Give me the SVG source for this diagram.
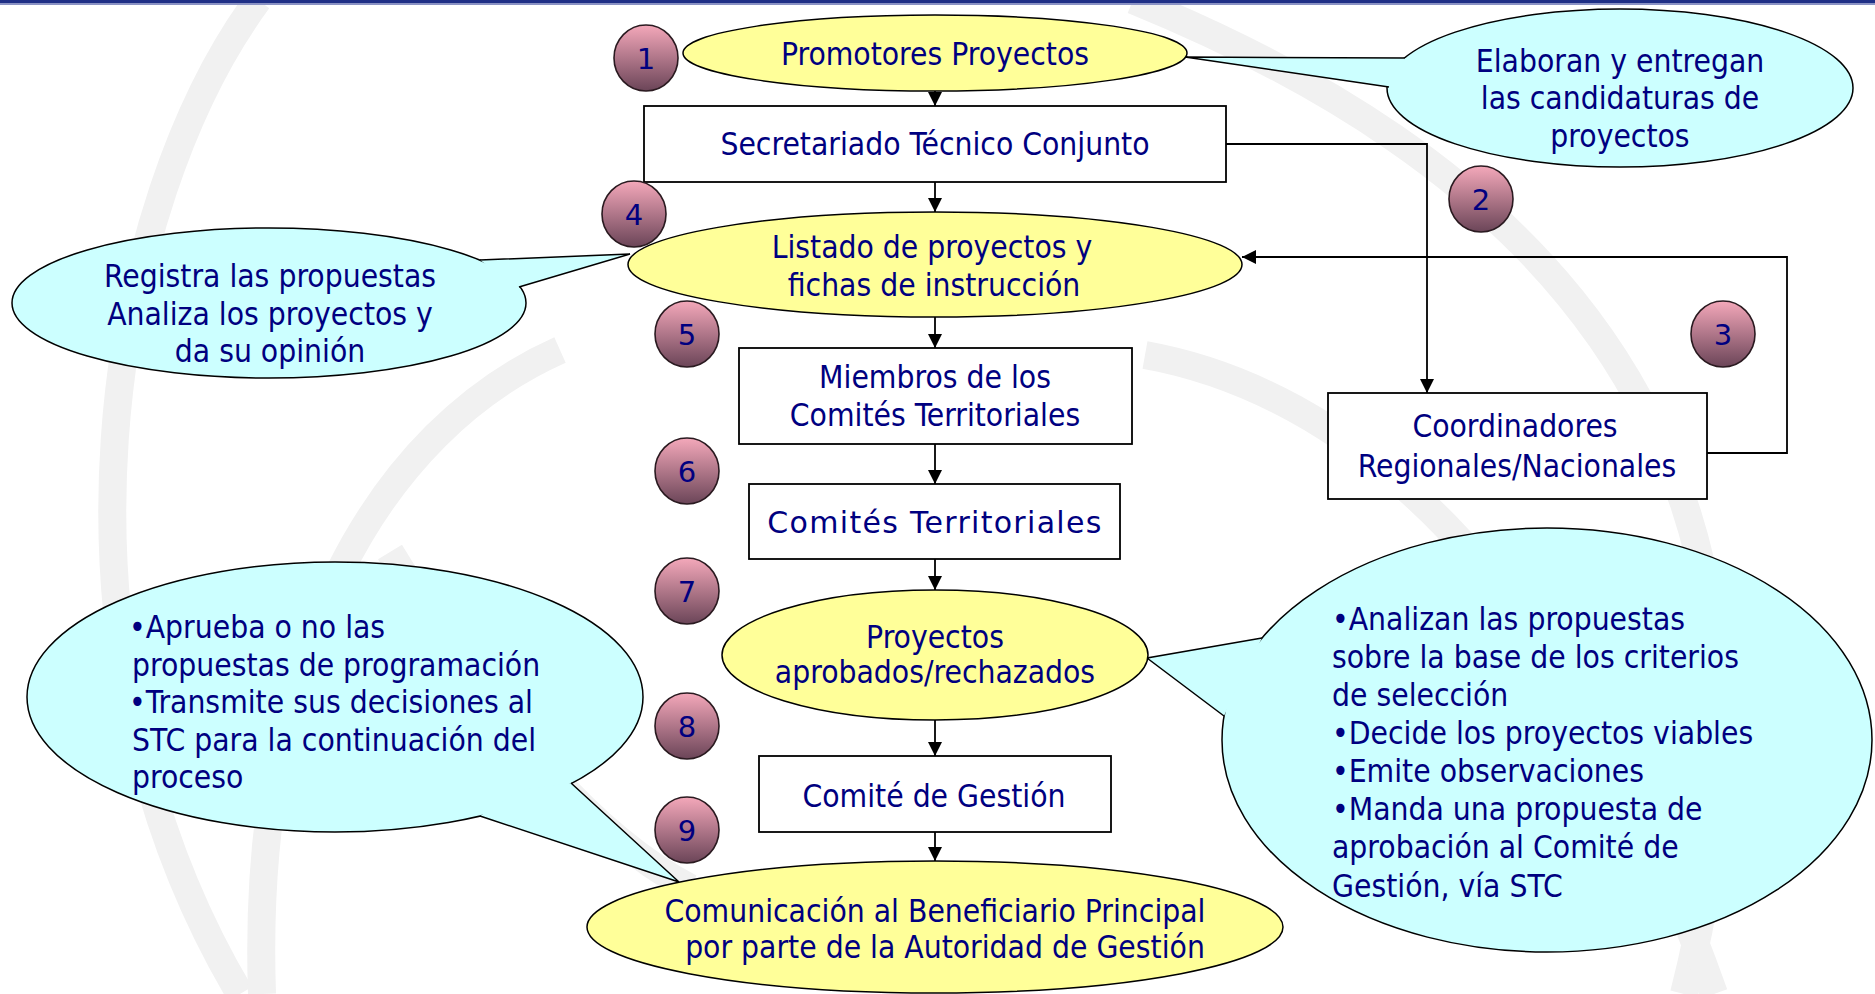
<svg xmlns="http://www.w3.org/2000/svg" width="1875" height="994" viewBox="0 0 1875 994">
<defs>
<style>
.t{font-family:"DejaVu Sans Condensed","DejaVu Sans",sans-serif;font-stretch:condensed;font-size:31.5px;fill:#000080;}
.v{font-family:"DejaVu Sans",Verdana,sans-serif;font-size:30px;letter-spacing:1.3px;fill:#000080;}
.c{text-anchor:middle;}
.yel{fill:#FFFF99;stroke:#000;stroke-width:1.5;}
.cy{fill:#CCFFFF;stroke:#000;stroke-width:1.5;}
.cyf{fill:#CCFFFF;stroke:none;}
.edge{fill:none;stroke:#000;stroke-width:1.5;}
.box{fill:#FFFFFF;stroke:#000;stroke-width:1.8;}
.num{fill:url(#ng);stroke:#2a1a20;stroke-width:1.6;}
.nt{font-family:"DejaVu Sans",Verdana,sans-serif;font-size:29px;fill:#000080;text-anchor:middle;}
.conn{fill:none;stroke:#000;stroke-width:1.8;marker-end:url(#ah);}
.wm{fill:none;stroke:#f1f1f1;stroke-width:28;}
</style>
<linearGradient id="ng" x1="0" y1="0" x2="0" y2="1">
<stop offset="0" stop-color="#F4A8BA"/>
<stop offset="1" stop-color="#6B4558"/>
</linearGradient>
<marker id="ah" viewBox="0 0 14 14" refX="14" refY="7" markerWidth="14" markerHeight="14" markerUnits="userSpaceOnUse" orient="auto">
<path d="M0,0 L14,7 L0,14 Z" fill="#000"/>
</marker>
</defs>
<rect width="1875" height="994" fill="#FFFFFF"/>
<g id="watermark">
<path class="wm" d="M258,0 C110,200 30,640 240,994"/>
<path class="wm" d="M560,350 C380,430 250,650 262,994"/>
<path class="wm" d="M1133,0 C1500,150 1830,420 1684,994"/>
<path class="wm" d="M1145,355 C1340,390 1560,560 1714,994"/>
<path class="wm" d="M390,552 C480,700 580,830 690,888"/>
</g>
<rect x="0" y="0" width="1875" height="3" fill="#1F2F86"/>
<rect x="0" y="3" width="1875" height="2" fill="#8A92C4"/>

<g id="connectors">
<line class="conn" x1="935" y1="91" x2="935" y2="106"/>
<line class="conn" x1="935" y1="182" x2="935" y2="212"/>
<path class="conn" d="M1226,144 H1427 V393"/>
<path class="conn" d="M1707,453 H1787 V257 H1242"/>
<line class="conn" x1="935" y1="317" x2="935" y2="348"/>
<line class="conn" x1="935" y1="444" x2="935" y2="484"/>
<line class="conn" x1="935" y1="559" x2="935" y2="590"/>
<line class="conn" x1="935" y1="720" x2="935" y2="756"/>
<line class="conn" x1="935" y1="832" x2="935" y2="861"/>
</g>

<g id="callout-elaboran">
<ellipse class="cy" cx="1620" cy="88" rx="233" ry="79"/>
<polygon class="cyf" points="1185,57 1405,58 1440,75 1389,87"/>
<polyline class="edge" points="1405,58 1185,57 1389,87"/>
<text class="t c" x="1620" y="72">Elaboran y entregan</text>
<text class="t c" x="1620" y="109">las candidaturas de</text>
<text class="t c" x="1620" y="147">proyectos</text>
</g>

<g id="callout-registra">
<ellipse class="cy" cx="269" cy="303" rx="257" ry="75"/>
<polygon class="cyf" points="480,260 630,254 519,287 500,275"/>
<polyline class="edge" points="480,260 630,254 519,287"/>
<text class="t c" x="270" y="287">Registra las propuestas</text>
<text class="t c" x="270" y="325">Analiza los proyectos y</text>
<text class="t c" x="270" y="362">da su opinión</text>
</g>

<g id="callout-aprueba">
<ellipse class="cy" cx="335" cy="697" rx="308" ry="135"/>
<polygon class="cyf" points="571,783 679,882 480,816 520,790"/>
<polyline class="edge" points="571,783 679,882 480,816"/>
<text class="t" x="129" y="638">•Aprueba o no las</text>
<text class="t" x="132" y="676">propuestas de programación</text>
<text class="t" x="129" y="713">•Transmite sus decisiones al</text>
<text class="t" x="132" y="751">STC para la continuación del</text>
<text class="t" x="132" y="788">proceso</text>
</g>

<g id="callout-analizan">
<ellipse class="cy" cx="1547" cy="740" rx="325" ry="212"/>
<polygon class="cyf" points="1262,638 1147,658 1224,716 1240,680"/>
<polyline class="edge" points="1262,638 1147,658 1224,716"/>
<text class="t" x="1332" y="630">•Analizan las propuestas</text>
<text class="t" x="1332" y="668">sobre la base de los criterios</text>
<text class="t" x="1332" y="706">de selección</text>
<text class="t" x="1332" y="744">•Decide los proyectos viables</text>
<text class="t" x="1332" y="782">•Emite observaciones</text>
<text class="t" x="1332" y="820">•Manda una propuesta de</text>
<text class="t" x="1332" y="858">aprobación al Comité de</text>
<text class="t" x="1332" y="897">Gestión, vía STC</text>
</g>

<g id="promotores">
<ellipse class="yel" cx="935" cy="53" rx="252" ry="38"/>
<text class="t c" x="935" y="65">Promotores Proyectos</text>
</g>
<g id="stc">
<rect class="box" x="644" y="106" width="582" height="76"/>
<text class="t c" x="935" y="155">Secretariado Técnico Conjunto</text>
</g>
<g id="listado">
<ellipse class="yel" cx="935" cy="264.5" rx="307" ry="52.5"/>
<text class="t c" x="932" y="258">Listado de proyectos y</text>
<text class="t c" x="934" y="296">fichas de instrucción</text>
</g>
<g id="coordinadores">
<rect class="box" x="1328" y="393" width="379" height="106"/>
<text class="t c" x="1515" y="437">Coordinadores</text>
<text class="t c" x="1517" y="477">Regionales/Nacionales</text>
</g>
<g id="miembros">
<rect class="box" x="739" y="348" width="393" height="96"/>
<text class="t c" x="935" y="388">Miembros de los</text>
<text class="t c" x="935" y="426">Comités Territoriales</text>
</g>
<g id="comites">
<rect class="box" x="749" y="484" width="371" height="75"/>
<text class="v c" x="935" y="533">Comités Territoriales</text>
</g>
<g id="proyectos">
<ellipse class="yel" cx="935" cy="655" rx="213" ry="65"/>
<text class="t c" x="935" y="648">Proyectos</text>
<text class="t c" x="935" y="683">aprobados/rechazados</text>
</g>
<g id="comite-gestion">
<rect class="box" x="759" y="756" width="352" height="76"/>
<text class="t c" x="934" y="807">Comité de Gestión</text>
</g>
<g id="comunicacion">
<ellipse class="yel" cx="935" cy="927" rx="348" ry="66"/>
<text class="t c" x="935" y="922">Comunicación al Beneficiario Principal</text>
<text class="t c" x="945" y="958">por parte de la Autoridad de Gestión</text>
</g>

<g id="n1"><ellipse class="num" cx="646" cy="58" rx="32" ry="33"/><text class="nt" x="646" y="69">1</text></g>
<g id="n2"><ellipse class="num" cx="1481" cy="199" rx="32" ry="33"/><text class="nt" x="1481" y="210">2</text></g>
<g id="n3"><ellipse class="num" cx="1723" cy="334" rx="32" ry="33"/><text class="nt" x="1723" y="345">3</text></g>
<g id="n4"><ellipse class="num" cx="634" cy="214" rx="32" ry="33"/><text class="nt" x="634" y="225">4</text></g>
<g id="n5"><ellipse class="num" cx="687" cy="334" rx="32" ry="33"/><text class="nt" x="687" y="345">5</text></g>
<g id="n6"><ellipse class="num" cx="687" cy="471" rx="32" ry="33"/><text class="nt" x="687" y="482">6</text></g>
<g id="n7"><ellipse class="num" cx="687" cy="591" rx="32" ry="33"/><text class="nt" x="687" y="602">7</text></g>
<g id="n8"><ellipse class="num" cx="687" cy="726" rx="32" ry="33"/><text class="nt" x="687" y="737">8</text></g>
<g id="n9"><ellipse class="num" cx="687" cy="830" rx="32" ry="33"/><text class="nt" x="687" y="841">9</text></g>
</svg>
